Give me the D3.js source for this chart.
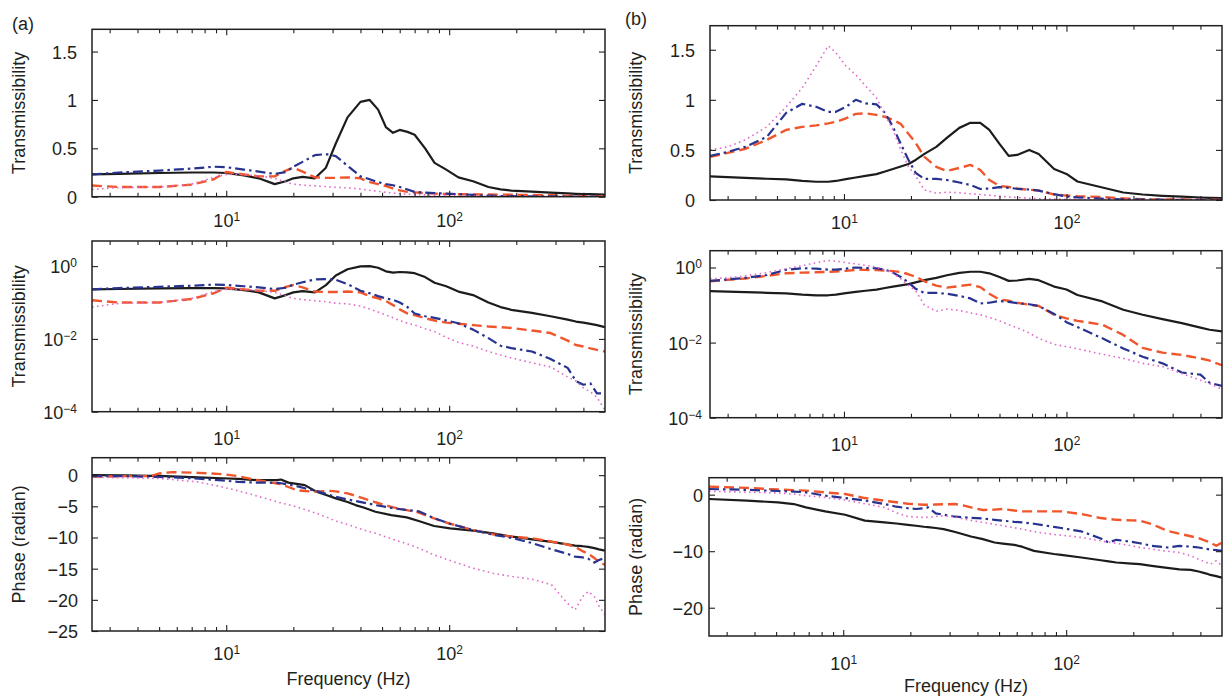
<!DOCTYPE html>
<html>
<head>
<meta charset="utf-8">
<script src="https://cdn.jsdelivr.net/npm/d3@7"></script>
<style>
  body { margin: 0; background: #fff; }
  svg { display: block; }
  text { font-family: "Liberation Sans", Arial, Helvetica, sans-serif; fill: #231f20; }
</style>
</head>
<body>
<svg id="chart" width="1227" height="696"></svg>
<script>
// ---- Frequency grids (Hz) ----
const freqTA = [2.5, 3.3, 5, 7, 8.8, 10, 12, 14, 16.5, 18.5, 20, 22, 25, 28, 31, 35, 40, 44, 48, 52, 56, 60, 65, 70, 78, 86, 97, 110, 128, 150, 170, 190, 235, 285, 340, 370, 400, 430, 460, 500];
const freqTB = [2.5, 3, 3.6, 4.5, 5.5, 6.5, 7.5, 8.5, 9.2, 10.2, 11.3, 12.5, 14, 15.3, 16.6, 18, 19.5, 21, 23, 26, 29, 33, 37, 41, 45, 50, 55, 60, 68, 75, 88, 100, 112, 145, 180, 220, 270, 330, 400, 440, 500];
const freqPA = [2.5, 3.5, 4.6, 5, 5.7, 7.5, 9.6, 11.3, 13.8, 16.9, 17.6, 19, 20.7, 22.5, 25.4, 28.7, 31, 35, 38, 41.3, 46.7, 55, 64.5, 73, 85.6, 101, 128, 157, 192, 236, 288, 338, 367, 397, 420, 448, 470, 500];
const freqPB = [2.5, 3.7, 5.1, 6, 6.8, 8.3, 10.2, 12.5, 15.3, 17.3, 19.5, 21.2, 23, 24, 26, 28.2, 31.8, 34.5, 37.4, 42.3, 47.7, 52, 58.5, 63.4, 71.7, 88, 95, 117, 143, 155, 168, 197, 214, 242, 262, 284, 322, 362, 393, 426, 443, 471, 500];

// ---- (a) transmissibility ----
const tA_solid   = [0.23, 0.235, 0.245, 0.25, 0.25, 0.245, 0.22, 0.19, 0.13, 0.16, 0.19, 0.205, 0.19, 0.3, 0.55, 0.82, 0.98, 1.0, 0.9, 0.72, 0.66, 0.69, 0.67, 0.64, 0.5, 0.35, 0.28, 0.2, 0.16, 0.1, 0.075, 0.063, 0.052, 0.042, 0.034, 0.03, 0.028, 0.026, 0.024, 0.021];
const tA_dashed  = [0.115, 0.1, 0.1, 0.125, 0.18, 0.255, 0.23, 0.21, 0.21, 0.27, 0.3, 0.26, 0.2, 0.195, 0.195, 0.2, 0.19, 0.15, 0.13, 0.11, 0.085, 0.065, 0.05, 0.045, 0.037, 0.032, 0.028, 0.026, 0.024, 0.022, 0.021, 0.02, 0.017, 0.0145, 0.009, 0.0068, 0.0062, 0.0055, 0.005, 0.0045];
const tA_dashdot = [0.23, 0.25, 0.27, 0.29, 0.31, 0.305, 0.28, 0.26, 0.235, 0.255, 0.31, 0.36, 0.43, 0.44, 0.42, 0.32, 0.21, 0.18, 0.15, 0.13, 0.118, 0.1, 0.075, 0.05, 0.042, 0.038, 0.032, 0.027, 0.018, 0.0105, 0.0065, 0.0056, 0.0045, 0.0028, 0.0016, 0.0007, 0.00055, 0.0006, 0.00032, 0.00032];
const tA_dotted  = [0.075, 0.095, 0.1, 0.13, 0.2, 0.23, 0.23, 0.215, 0.19, 0.15, 0.13, 0.12, 0.112, 0.105, 0.096, 0.092, 0.08, 0.066, 0.055, 0.045, 0.038, 0.032, 0.027, 0.024, 0.019, 0.016, 0.011, 0.008, 0.0064, 0.0045, 0.0036, 0.003, 0.0022, 0.0017, 0.0009, 0.0007, 0.00045, 0.00035, 0.00025, 0.00011];

// ---- (b) transmissibility ----
const tB_solid   = [0.235, 0.228, 0.22, 0.212, 0.205, 0.19, 0.182, 0.182, 0.19, 0.208, 0.225, 0.24, 0.258, 0.285, 0.31, 0.335, 0.36, 0.4, 0.46, 0.53, 0.62, 0.72, 0.77, 0.77, 0.7, 0.56, 0.44, 0.45, 0.5, 0.46, 0.31, 0.26, 0.185, 0.125, 0.075, 0.055, 0.042, 0.033, 0.025, 0.022, 0.02];
const tB_dashed  = [0.43, 0.47, 0.51, 0.6, 0.7, 0.73, 0.745, 0.765, 0.78, 0.815, 0.86, 0.865, 0.85, 0.83, 0.8, 0.76, 0.66, 0.57, 0.43, 0.33, 0.29, 0.32, 0.35, 0.3, 0.2, 0.14, 0.13, 0.115, 0.102, 0.095, 0.055, 0.044, 0.038, 0.03, 0.016, 0.0072, 0.0054, 0.0047, 0.0038, 0.0033, 0.0025];
const tB_dashdot = [0.44, 0.48, 0.53, 0.63, 0.87, 0.96, 0.93, 0.88, 0.88, 0.93, 1.0, 0.965, 0.955, 0.87, 0.73, 0.56, 0.4, 0.27, 0.21, 0.21, 0.2, 0.175, 0.15, 0.11, 0.115, 0.128, 0.122, 0.112, 0.105, 0.094, 0.058, 0.035, 0.026, 0.013, 0.007, 0.0042, 0.0028, 0.0016, 0.0014, 0.00085, 0.0007];
const tB_dotted  = [0.5, 0.53, 0.6, 0.73, 0.93, 1.12, 1.34, 1.54, 1.47, 1.34, 1.25, 1.14, 1.02, 0.85, 0.7, 0.5, 0.33, 0.24, 0.1, 0.068, 0.078, 0.072, 0.062, 0.055, 0.047, 0.038, 0.03, 0.025, 0.018, 0.013, 0.009, 0.0078, 0.0068, 0.0049, 0.0038, 0.0028, 0.0023, 0.0015, 0.001, 0.0008, 0.00057];

// ---- (a) phase (radian) ----
const phA_solid   = [0, -0.03, -0.1, -0.12, -0.2, -0.35, -0.5, -0.6, -0.8, -0.8, -0.7, -1.2, -1.4, -1.6, -2.67, -3.3, -3.73, -4.3, -4.8, -5.2, -5.87, -6.4, -6.77, -7.36, -8.16, -8.53, -8.9, -9.33, -9.87, -10.3, -10.7, -11.1, -11.3, -11.4, -11.5, -11.7, -11.9, -12.1];
const phA_dashed  = [-0.27, -0.16, -0.16, 0.27, 0.48, 0.37, 0.16, -0.16, -0.8, -1.33, -1.45, -1.9, -2.4, -2.55, -2.67, -2.5, -2.6, -2.93, -3.3, -3.73, -4.35, -5.1, -5.6, -6.0, -6.93, -7.8, -8.8, -9.5, -9.87, -10.13, -10.67, -11.1, -11.5, -12.2, -12.6, -13.3, -13.9, -14.4];
const phA_dashdot = [-0.16, -0.16, -0.25, -0.3, -0.35, -0.55, -0.85, -1.07, -1.2, -1.23, -1.3, -1.5, -1.76, -2.1, -2.56, -3.1, -3.47, -3.9, -4.16, -4.4, -4.8, -5.25, -5.6, -5.8, -6.9, -7.8, -8.8, -9.55, -10.1, -10.9, -11.9, -12.6, -13.07, -13.2, -13.4, -14.03, -13.6, -13.3];
const phA_dotted  = [-0.37, -0.4, -0.5, -0.55, -0.7, -1.1, -1.9, -2.5, -3.36, -4.27, -4.45, -4.75, -5.07, -5.5, -6.13, -6.85, -7.36, -7.9, -8.37, -8.8, -9.33, -10.2, -11.0, -11.7, -12.8, -13.7, -14.93, -15.73, -16.27, -16.7, -17.6, -20.5, -21.6, -19.47, -18.67, -19.47, -21, -22.4];

// ---- (b) phase (radian) ----
const phB_solid   = [-0.77, -1.07, -1.36, -1.66, -2.25, -2.96, -3.55, -4.6, -4.9, -5.1, -5.33, -5.5, -5.68, -5.75, -5.9, -6.1, -6.6, -7.0, -7.4, -7.87, -8.46, -8.65, -8.88, -9.2, -9.94, -10.5, -10.65, -11.12, -11.6, -11.8, -12.0, -12.2, -12.3, -12.6, -12.78, -12.95, -13.2, -13.3, -13.6, -13.96, -14.2, -14.4, -14.67];
const phB_dashed  = [1.42, 1.2, 0.9, 0.8, 0.71, 0.4, 0.12, -0.6, -1.07, -1.35, -1.6, -1.7, -1.78, -1.78, -1.75, -1.7, -1.66, -1.9, -2.25, -2.72, -2.65, -2.54, -2.8, -2.96, -2.96, -2.96, -2.96, -3.43, -4.14, -4.3, -4.45, -4.55, -4.6, -5.2, -5.8, -6.4, -6.9, -7.35, -7.7, -8.2, -8.46, -9.05, -8.46];
const phB_dashdot = [1.0, 0.85, 0.65, 0.55, 0.41, -0.18, -0.6, -1.05, -1.65, -2.13, -2.4, -2.54, -2.4, -2.25, -3.31, -3.55, -3.9, -4.0, -4.1, -4.2, -4.45, -4.6, -4.8, -4.9, -5.15, -5.7, -5.9, -6.5, -7.75, -8.46, -7.99, -8.34, -8.6, -9.05, -9.2, -9.35, -9.05, -9.2, -9.35, -9.6, -9.7, -9.8, -9.94];
const phB_dotted  = [0.6, 0.45, 0.3, 0.1, -0.18, -0.5, -0.95, -1.6, -2.25, -3.2, -3.85, -3.95, -4.02, -4.0, -3.85, -3.73, -3.95, -4.3, -4.55, -4.9, -5.25, -5.5, -5.85, -6.1, -6.55, -7.05, -7.16, -7.57, -8.17, -8.4, -8.6, -9.05, -9.35, -9.6, -9.82, -10.0, -10.24, -10.8, -11.42, -12.0, -12.3, -11.7, -12.6];

// ---- Tick values ----
const xMajorTicks = [10, 100];
const xMinorTicks = [3, 4, 5, 6, 7, 8, 9, 20, 30, 40, 50, 60, 70, 80, 90, 200, 300, 400];
const linTransTicks = [0, 0.5, 1, 1.5];
const logTransTicks = [1e-4, 1e-2, 1];
const phaseTicksA = [-25, -20, -15, -10, -5, 0];
const phaseTicksB = [-20, -10, 0];

const freqDomain = [2.5, 500];

const lineStyles = {
  solid:   { color: "#1c1c1c", width: 2.2, dash: null },
  dashed:  { color: "#f1552b", width: 2.4, dash: "10,5" },
  dashdot: { color: "#27338f", width: 2.2, dash: "10,4,2.5,4" },
  dotted:  { color: "#e06ccb", width: 1.6, dash: "1.6,3.4" }
};

const svg = d3.select("#chart");
const fmtLin = d3.format("~g");

function powerLabel(sel, d) {
  const e = Math.round(Math.log10(d));
  sel.text("10");
  sel.append("tspan")
    .attr("dy", "-0.5em")
    .attr("font-size", "12px")
    .text(e < 0 ? "\u2212" + (-e) : String(e));
}

function series(freq, solid, dashed, dashdot, dotted) {
  return [
    { freq, values: solid,   style: "solid" },
    { freq, values: dashed,  style: "dashed" },
    { freq, values: dashdot, style: "dashdot" },
    { freq, values: dotted,  style: "dotted" }
  ];
}

const panels = [
  { id: "a1", x0: 92,  x1: 605,  y0: 29.3,  y1: 196.7, log: false, yDomain: [0, 1.73],  yTicks: linTransTicks, yPad: 15, xGap: 30, yLabel: "Transmissibility", yLabelX: 19,
    lines: series(freqTA, tA_solid, tA_dashed, tA_dashdot, tA_dotted) },
  { id: "a2", x0: 92,  x1: 605,  y0: 241,   y1: 411.7, log: true,  yDomain: [1e-4, 4.9], yTicks: logTransTicks, yPad: 15, xGap: 33, yLabel: "Transmissibility", yLabelX: 19,
    lines: series(freqTA, tA_solid, tA_dashed, tA_dashdot, tA_dotted) },
  { id: "a3", x0: 92,  x1: 605,  y0: 457.7, y1: 631,   log: false, yDomain: [-25, 2.8], yTicks: phaseTicksA, yPad: 14, xGap: 29, yLabel: "Phase (radian)", yLabelX: 19,
    lines: series(freqPA, phA_solid, phA_dashed, phA_dashdot, phA_dotted) },
  { id: "b1", x0: 710, x1: 1222, y0: 25.7,  y1: 200,   log: false, yDomain: [0, 1.74],  yTicks: linTransTicks, yPad: 15, xGap: 29, yLabel: "Transmissibility", yLabelX: 636,
    lines: series(freqTB, tB_solid, tB_dashed, tB_dashdot, tB_dotted) },
  { id: "b2", x0: 710, x1: 1222, y0: 250.7, y1: 417.7, log: true,  yDomain: [1e-4, 2.8], yTicks: logTransTicks, yPad: 8, xGap: 33, yLabel: "Transmissibility", yLabelX: 636,
    lines: series(freqTB, tB_solid, tB_dashed, tB_dashdot, tB_dotted) },
  { id: "b3", x0: 709, x1: 1222, y0: 477.7, y1: 636,   log: false, yDomain: [-25, 3],   yTicks: phaseTicksB, yPad: 6, xGap: 34, yLabel: "Phase (radian)", yLabelX: 636,
    lines: series(freqPB, phB_solid, phB_dashed, phB_dashdot, phB_dotted) }
];

function styleAxis(g) {
  g.attr("font-family", "'Liberation Sans', Arial, sans-serif")
   .attr("font-size", 18)
   .attr("color", "#231f20");
  g.select(".domain").remove();
  g.selectAll(".tick line").attr("stroke-width", 1.1);
}

panels.forEach(p => {
  const w = p.x1 - p.x0, h = p.y1 - p.y0;
  const g = svg.append("g").attr("transform", `translate(${p.x0},${p.y0})`);
  const x = d3.scaleLog().domain(freqDomain).range([0, w]);
  const y = (p.log ? d3.scaleLog() : d3.scaleLinear()).domain(p.yDomain).range([h, 0]);

  const clipId = "clip-" + p.id;
  g.append("clipPath").attr("id", clipId)
    .append("rect").attr("width", w).attr("height", h);

  const plot = g.append("g").attr("clip-path", `url(#${clipId})`);
  p.lines.forEach(s => {
    const st = lineStyles[s.style];
    const line = d3.line()
      .x((d, i) => x(s.freq[i]))
      .y(d => y(d));
    plot.append("path")
      .datum(s.values)
      .attr("d", line)
      .attr("fill", "none")
      .attr("stroke", st.color)
      .attr("stroke-width", st.width)
      .attr("stroke-dasharray", st.dash)
      .attr("stroke-linejoin", "round");
  });

  // x axes: inward ticks on bottom and top
  g.append("g").attr("transform", `translate(0,${h})`)
    .call(d3.axisBottom(x).tickValues(xMinorTicks).tickSize(-4).tickFormat(""))
    .call(styleAxis);
  const xb = g.append("g").attr("transform", `translate(0,${h})`)
    .call(d3.axisBottom(x).tickValues(xMajorTicks).tickSize(-6).tickFormat(""))
    .call(styleAxis);
  xb.selectAll(".tick text")
    .attr("y", p.xGap).attr("dy", 0)
    .each(function (d) { powerLabel(d3.select(this), d); });
  g.append("g")
    .call(d3.axisTop(x).tickValues(xMinorTicks).tickSize(-4).tickFormat(""))
    .call(styleAxis);
  g.append("g")
    .call(d3.axisTop(x).tickValues(xMajorTicks).tickSize(-6).tickFormat(""))
    .call(styleAxis);

  // y axes: inward ticks on left and right
  const yl = g.append("g")
    .call(d3.axisLeft(y).tickValues(p.yTicks).tickSize(-6).tickPadding(p.yPad)
      .tickFormat(p.log ? () => "" : fmtLin))
    .call(styleAxis);
  yl.selectAll(".tick text").attr("dy", "0.36em");
  if (p.log) yl.selectAll(".tick text").each(function (d) { powerLabel(d3.select(this), d); });
  g.append("g").attr("transform", `translate(${w},0)`)
    .call(d3.axisRight(y).tickValues(p.yTicks).tickSize(-6).tickFormat(""))
    .call(styleAxis);

  // frame
  g.append("rect")
    .attr("width", w).attr("height", h)
    .attr("fill", "none").attr("stroke", "#231f20").attr("stroke-width", 1.5);

  // y-axis title
  svg.append("text")
    .attr("transform", `translate(${p.yLabelX},${p.y0 + h / 2}) rotate(-90)`)
    .attr("text-anchor", "middle")
    .attr("dy", "0.35em")
    .attr("font-size", 18)
    .text(p.yLabel);
});

// x-axis titles
svg.append("text").attr("x", 348.5).attr("y", 685).attr("text-anchor", "middle")
  .attr("font-size", 18).text("Frequency (Hz)");
svg.append("text").attr("x", 966).attr("y", 692).attr("text-anchor", "middle")
  .attr("font-size", 18).text("Frequency (Hz)");

// sub-figure tags
svg.append("text").attr("x", 12).attr("y", 29.5).attr("font-size", 18).text("(a)");
svg.append("text").attr("x", 625).attr("y", 24.5).attr("font-size", 18).text("(b)");
</script>
</body>
</html>
